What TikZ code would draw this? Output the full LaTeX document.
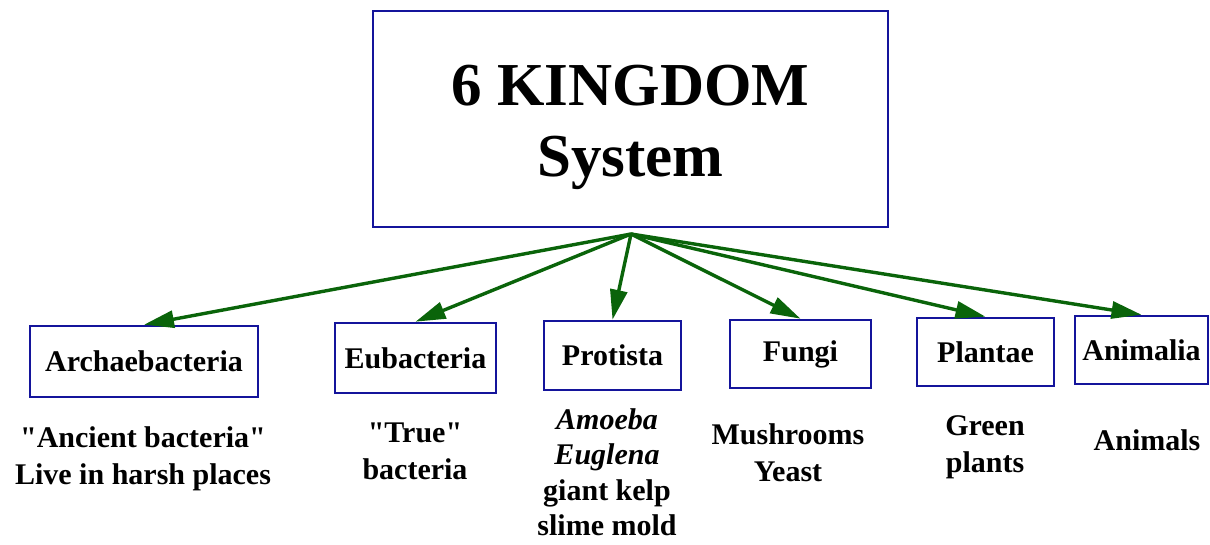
\documentclass[tikz,border=0pt]{standalone}
\usepackage{fontspec}
\setmainfont{Liberation Serif}
\usetikzlibrary{arrows.meta}
\definecolor{boxblue}{RGB}{20,20,155}
\definecolor{arrowgreen}{RGB}{10,100,10}
\tikzset{
  kbox/.style={draw=boxblue,line width=2.6pt,inner sep=0pt,font=\fontsize{30}{35}\selectfont\bfseries},
  desc/.style={align=center,font=\fontsize{30}{37}\selectfont\bfseries},
  branch/.style={draw=arrowgreen,line width=3.4pt,-{Triangle[length=30pt,width=17pt]}}
}

\begin{document}
\begin{tikzpicture}[x=1pt,y=-1pt]
  \useasboundingbox (0,0) rectangle (1210,544);
  % top box
  \draw (630.5,119) node[kbox,minimum width=515,minimum height=216] (sys) {};
  \node[align=center,font=\fontsize{61}{71}\selectfont\bfseries] (systxt) at (630.5,127) {6 KINGDOM\\System};
  \coordinate (hub) at (631,234);
  % kingdoms
  \draw (144,361.5) node[kbox,minimum width=228,minimum height=71] (arch) {Archaebacteria};
  \draw (415.5,358) node[kbox,minimum width=161,minimum height=70] (eub) {Eubacteria};
  \draw (612.5,355.5) node[kbox,minimum width=137,minimum height=69] (prot) {Protista};
  \draw (800.5,354) node[kbox,minimum width=141,minimum height=68] (fung) {Fungi};
  \draw (985.5,352) node[kbox,minimum width=137,minimum height=68] (plan) {Plantae};
  \draw (1141.5,350) node[kbox,minimum width=133,minimum height=68] (anim) {Animalia};
  % arrows
  \foreach \k in {arch,eub,prot,fung,plan,anim}
    \draw[branch] (hub) -- (\k.north);
  % examples
  \node[desc] (archtxt) at (143,459) {\textquotedbl Ancient bacteria\textquotedbl\\Live in harsh places};
  \node[desc] (eubtxt) at (415,451) {\textquotedbl True\textquotedbl\\bacteria};
  \node[desc,font=\fontsize{30}{35.5}\selectfont\bfseries] (prottxt) at (607,472) {\itshape Amoeba\\\itshape Euglena\\giant kelp\\slime mold};
  \node[desc] (fungtxt) at (788,453) {Mushrooms\\Yeast};
  \node[desc] (plantxt) at (985,447) {Green\\plants};
  \node[desc] (animtxt) at (1147,440) {Animals};
\end{tikzpicture}
\end{document}
